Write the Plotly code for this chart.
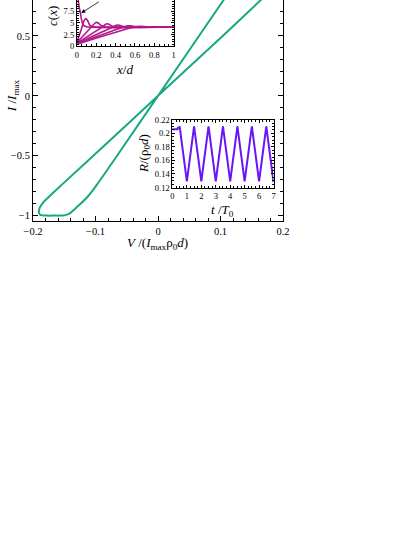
import plotly.graph_objects as go

# ---------------- data ----------------
# main I-V hysteresis curve
V_loop = [0.21, 0.1645, 0.1035, 0.0, -0.1035, -0.152, -0.166, -0.177, -0.1845, -0.1888,
          -0.1903, -0.1905, -0.189, -0.185, -0.178, -0.165, -0.158, -0.150, -0.1445,
          -0.1395, -0.1345, -0.128, -0.1205, -0.113, -0.106, -0.0985, -0.0655, 0.0,
          0.105, 0.135]
I_loop = [1.02, 0.80, 0.50, 0.0, -0.50, -0.733, -0.80, -0.855, -0.895, -0.93,
          -0.955, -0.975, -0.99, -0.998, -1.0, -1.0, -1.0, -0.998, -0.99,
          -0.975, -0.952, -0.92, -0.885, -0.845, -0.80, -0.747, -0.50, 0.0,
          0.80, 1.03]

# inset: concentration profiles c(x)
c0_x = [0, 0.008, 0.015, 0.025, 0.035, 0.045, 0.055, 0.07, 0.1, 1.0]
c0_y = [15, 11, 9.5, 8.2, 7.2, 6.0, 5.0, 4.45, 4.15, 4.1]
c1_x = [0, 0.05, 0.07, 0.09, 0.11, 0.13, 0.15, 0.2, 1.0]
c1_y = [0.9, 3.9, 5.3, 5.9, 5.5, 4.6, 4.2, 4.1, 4.1]
c2_x = [0, 0.15, 0.18, 0.2, 0.22, 0.25, 0.28, 1.0]
c2_y = [0.8, 4.1, 4.8, 5.1, 4.95, 4.45, 4.15, 4.1]
c3_x = [0, 0.26, 0.29, 0.31, 0.33, 0.36, 0.39, 1.0]
c3_y = [0.7, 4.1, 4.6, 4.8, 4.7, 4.35, 4.15, 4.1]
c4_x = [0, 0.37, 0.4, 0.42, 0.44, 0.47, 0.5, 1.0]
c4_y = [0.6, 4.1, 4.45, 4.55, 4.5, 4.25, 4.12, 4.1]
c5_x = [0, 0.49, 0.53, 0.56, 0.6, 0.65, 1.0]
c5_y = [0.5, 4.15, 4.35, 4.35, 4.2, 4.12, 4.1]
c6_x = [0, 0.6, 0.65, 0.7, 0.75, 1.0]
c6_y = [0.45, 4.15, 4.25, 4.2, 4.12, 4.1]
c_curves = [(c0_x, c0_y), (c1_x, c1_y), (c2_x, c2_y), (c3_x, c3_y),
            (c4_x, c4_y), (c5_x, c5_y), (c6_x, c6_y)]

# inset: resistance vs time
t_vals = [0, 0.35, 0.4, 0.45, 0.5, 1.0, 1.5, 2.0, 2.5, 3.0, 3.5, 4.0, 4.5, 5.0, 5.5, 6.0, 6.5, 7.0]
R_vals = [0.206, 0.206, 0.209, 0.207, 0.21, 0.129, 0.21, 0.129, 0.21, 0.129, 0.21, 0.129,
          0.21, 0.129, 0.21, 0.129, 0.21, 0.128]

GREEN = "#16a882"
MAGENTA = "#b3168e"
PURPLE = "#6a14f8"
FONT = "Liberation Serif"

# ---------------- geometry helpers (pixels -> paper) ----------------
W, H = 415, 537
L, R_, T, B = 33, 283.5, 0, 220.7


def px(x):
    return (x - L) / (R_ - L)


def py(y):
    return (B - y) / (B - T)


fig = go.Figure()

fig.add_trace(go.Scatter(x=V_loop, y=I_loop, mode="lines",
                         line=dict(color=GREEN, width=2, shape="spline", smoothing=1.0),
                         xaxis="x", yaxis="y", showlegend=False))

for cx, cy in c_curves:
    fig.add_trace(go.Scatter(x=cx, y=cy, mode="lines",
                             line=dict(color=MAGENTA, width=1.6, shape="spline", smoothing=0.7),
                             xaxis="x2", yaxis="y2", showlegend=False))

fig.add_trace(go.Scatter(x=t_vals, y=R_vals, mode="lines",
                         line=dict(color=PURPLE, width=2),
                         xaxis="x3", yaxis="y3", showlegend=False))

axis_common = dict(showgrid=False, zeroline=False, showline=True, linecolor="black",
                   linewidth=1, ticks="inside", tickcolor="black", tickwidth=1)

fig.update_layout(
    width=W, height=H,
    margin=dict(l=L, r=W - R_, t=T, b=H - B, autoexpand=False),
    paper_bgcolor="white", plot_bgcolor="white",
    font=dict(family=FONT, color="black", size=11),
    xaxis=dict(axis_common, range=[-0.2, 0.2], dtick=0.1, ticklen=5, mirror=False,
               tickfont=dict(size=10.5),
               minor=dict(ticks="inside", dtick=0.02, ticklen=3, tickcolor="black")),
    yaxis=dict(axis_common, range=[-1.045, 0.80], dtick=0.5, ticklen=5, mirror="allticks",
               tickfont=dict(size=10.5),
               minor=dict(ticks="inside", dtick=0.1, ticklen=3, tickcolor="black")),
    xaxis2=dict(axis_common, domain=[px(77), px(174)], anchor="y2", range=[0, 1],
                dtick=0.2, ticklen=3, mirror=False, tickfont=dict(size=8.5),
                minor=dict(ticks="inside", dtick=0.05, ticklen=2, tickcolor="black")),
    yaxis2=dict(axis_common, domain=[py(46.3), 1.0], anchor="x2", range=[0, 9.85],
                dtick=2.5, ticklen=3, mirror="allticks", tickfont=dict(size=8.5),
                minor=dict(ticks="inside", dtick=0.5, ticklen=2, tickcolor="black")),
    xaxis3=dict(axis_common, domain=[px(172.7), px(274)], anchor="y3", range=[0, 7],
                dtick=1, ticklen=3, mirror="allticks", tickfont=dict(size=8.5),
                minor=dict(ticks="inside", dtick=0.25, ticklen=2, tickcolor="black")),
    yaxis3=dict(axis_common, domain=[py(187.3), py(119.5)], anchor="x3", range=[0.12, 0.22],
                dtick=0.02, ticklen=3, mirror="allticks", tickfont=dict(size=8.5),
                tickformat=".2~f",
                minor=dict(ticks="inside", dtick=0.005, ticklen=2, tickcolor="black")),
)

ann = []


def label(text, x, y, size=13, angle=0):
    ann.append(dict(text=text, x=px(x), y=py(y), xref="paper", yref="paper",
                    showarrow=False, textangle=angle, font=dict(size=size, family=FONT),
                    xanchor="center", yanchor="middle"))


label("<i>V</i> /(<i>I</i><sub>max</sub>ρ<sub>0</sub><i>d</i>)", 158, 243, size=13)
label("<i>I</i> /<i>I</i><sub>max</sub>", 12, 96, size=13, angle=-90)
label("<i>x</i>/<i>d</i>", 125, 69, size=13)
label("<i>c</i>(<i>x</i>)", 52, 16, size=13, angle=-90)
label("<i>t</i> /<i>T</i><sub>0</sub>", 223, 210, size=13)
label("<i>R</i>/(ρ<sub>0</sub><i>d</i>)", 144, 153, size=13, angle=-90)

ann.append(dict(text="", x=0.045, y=7.1, xref="x2", yref="y2", showarrow=True,
                ax=19, ay=-12, arrowhead=2, arrowsize=1, arrowwidth=0.8,
                arrowcolor="black"))

fig.update_layout(annotations=ann)

fig.write_html("out.html", config={"displayModeBar": False},
               post_script="document.body.style.margin='0px';")
